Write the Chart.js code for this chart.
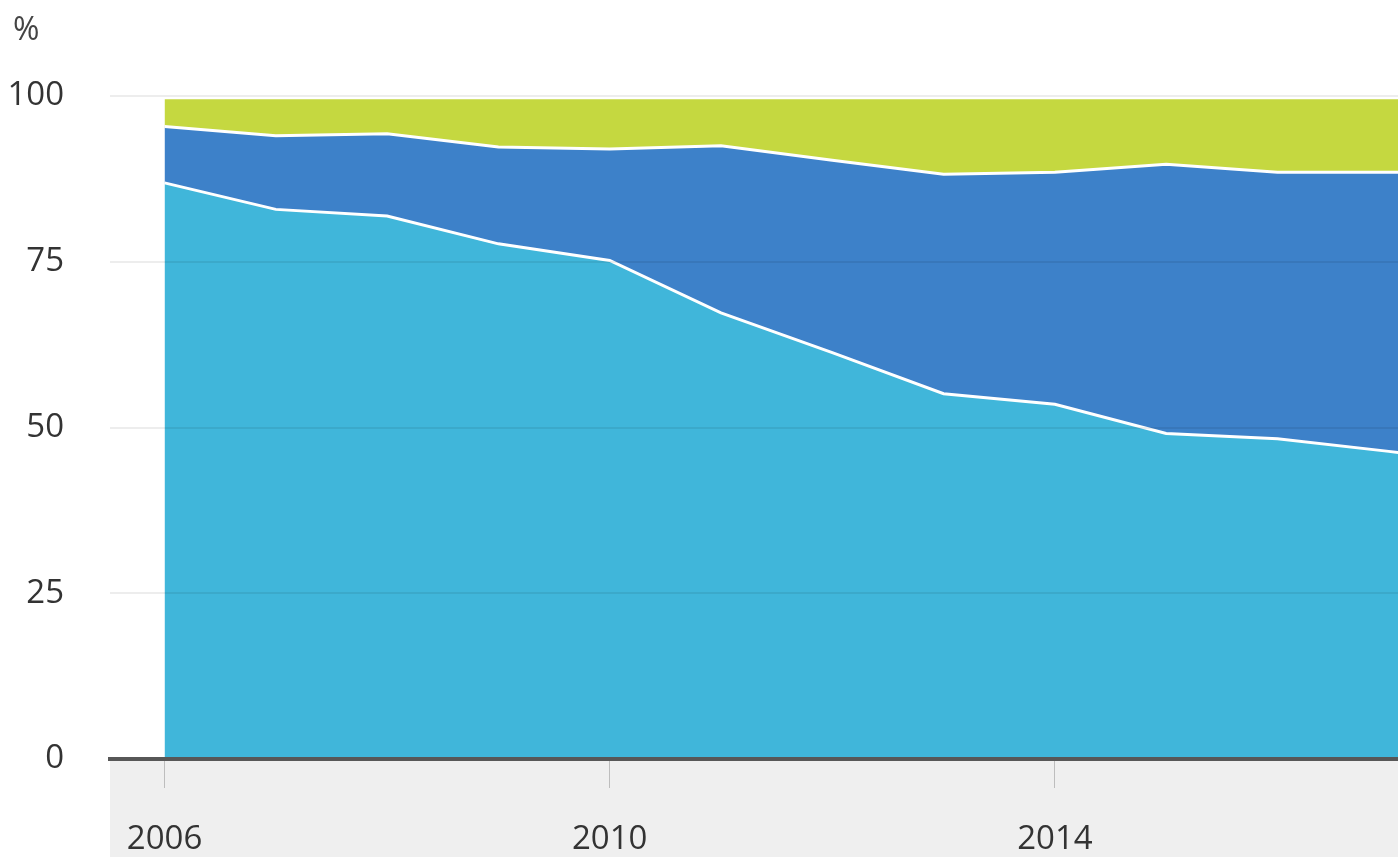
<!DOCTYPE html>
<html>
<head>
<meta charset="utf-8">
<script src="https://cdn.jsdelivr.net/npm/chart.js@4"></script>
<style>
  html, body { margin: 0; padding: 0; background: #ffffff; }
  #wrap { width: 1398px; height: 857px; position: relative; }
</style>
</head>
<body>
<div id="wrap"><canvas id="c" width="1398" height="857"></canvas></div>
<script>
// ---- data ----
const years      = [2006, 2007, 2008, 2009, 2010, 2011, 2012, 2013, 2014, 2015, 2016, 2017, 2018];
const lightShare = [86.9, 82.9, 81.9, 77.7, 75.2, 67.3, 61.3, 55.1, 53.5, 49.1, 48.3, 46.4, 44.5];
const darkShare  = [8.5, 11.1, 12.4, 14.6, 16.8, 25.2, 29.0, 33.1, 35.0, 40.6, 40.2, 42.1, 44.0];
const greenShare = [4.1, 5.5, 5.2, 7.2, 7.5, 7.0, 9.2, 11.3, 11.0, 9.8, 11.0, 11.0, 11.0];
const xTickYears = [2006, 2010, 2014];
const yTickValues = [0, 25, 50, 75, 100];
const unitLabel = '%';

const FONT = "'Open Sans', 'Liberation Sans', sans-serif";

function pts(arr) { return years.map((yr, i) => ({ x: yr, y: arr[i] })); }

const bgPlugin = {
  id: 'bgBand',
  beforeDraw(chart) {
    const { ctx, chartArea } = chart;
    ctx.save();
    ctx.fillStyle = '#efefef';
    ctx.fillRect(chartArea.left, chartArea.bottom, chartArea.right - chartArea.left, chart.height - chartArea.bottom);
    ctx.fillStyle = '#444444';
    ctx.font = '32px ' + FONT;
    ctx.textAlign = 'left';
    ctx.textBaseline = 'alphabetic';
    ctx.fillText(unitLabel, 13, 40);
    ctx.restore();
  }
};

new Chart(document.getElementById('c'), {
  type: 'line',
  data: {
    datasets: [
      { label: 'a', data: pts(lightShare), backgroundColor: '#40b6da', borderColor: '#ffffff', borderWidth: 3, fill: 'origin', pointRadius: 0, tension: 0 },
      { label: 'b', data: pts(darkShare), backgroundColor: '#3d81c9', borderColor: '#ffffff', borderWidth: 3, fill: '-1', pointRadius: 0, tension: 0 },
      { label: 'c', data: pts(greenShare), backgroundColor: '#c5d840', borderColor: 'rgba(0,0,0,0)', borderWidth: 0, fill: '-1', pointRadius: 0, tension: 0 }
    ]
  },
  options: {
    responsive: false,
    animation: false,
    events: [],
    layout: { padding: { left: 0, right: 0, top: 96, bottom: 0 } },
    plugins: { legend: { display: false }, tooltip: { enabled: false }, title: { display: false } },
    scales: {
      x: {
        type: 'linear',
        min: 2005.51,
        max: 2017.083,
        afterBuildTicks(scale) { scale.ticks = xTickYears.map(v => ({ value: v })); },
        afterFit(scale) { scale.height = 98; },
        grid: { z: 1, drawOnChartArea: false, drawTicks: true, tickLength: 29, tickColor: '#bdbdbd', tickWidth: 1 },
        border: { z: 2, display: true, color: '#575757', width: 4 },
        ticks: {
          z: 2,
          padding: 32,
          color: '#333333',
          font: { family: FONT, size: 33 },
          maxRotation: 0,
          autoSkip: false,
          callback: v => String(v)
        }
      },
      y: {
        stacked: true,
        min: 0,
        max: 100,
        afterBuildTicks(scale) { scale.ticks = yTickValues.map(v => ({ value: v })); },
        afterFit(scale) { scale.width = 110; },
        grid: { z: 1, color: 'rgba(0,0,0,0.07)', lineWidth: 2, drawTicks: false },
        border: { display: false },
        ticks: {
          padding: 46,
          color: '#333333',
          font: { family: FONT, size: 33 },
          callback: v => String(v)
        }
      }
    }
  },
  plugins: [bgPlugin]
});
</script>
</body>
</html>
